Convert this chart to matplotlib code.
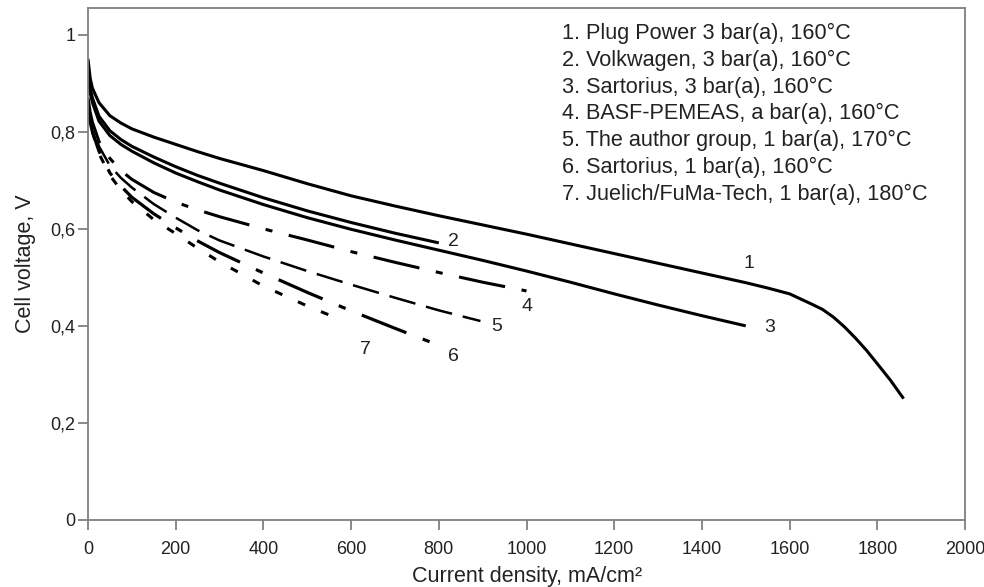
import matplotlib
matplotlib.use("Agg")
import matplotlib.pyplot as plt
from matplotlib.ticker import FuncFormatter

plt.rcParams['font.family'] = ['Liberation Sans', 'DejaVu Sans']

# polarisation curves, current density in mA/cm2, cell voltage in V
x1 = [0, 5, 10, 25, 50, 75, 100, 150, 200, 250, 300, 400, 500, 600, 700, 800, 900, 1000,
      1100, 1200, 1300, 1400, 1500, 1550, 1600, 1650, 1675, 1700, 1725, 1750, 1775, 1800,
      1830, 1860]
y1 = [0.95, 0.91, 0.89, 0.86, 0.833, 0.818, 0.806, 0.789, 0.774, 0.759, 0.745, 0.72,
      0.693, 0.668, 0.647, 0.627, 0.608, 0.589, 0.569, 0.549, 0.529, 0.509, 0.489,
      0.478, 0.466, 0.445, 0.434, 0.418, 0.398, 0.375, 0.35, 0.322, 0.288, 0.25]

x2 = [0, 5, 10, 25, 50, 75, 100, 150, 200, 250, 300, 400, 500, 600, 700, 800]
y2 = [0.93, 0.89, 0.87, 0.832, 0.802, 0.784, 0.77, 0.748, 0.728, 0.71, 0.694, 0.664,
      0.637, 0.613, 0.591, 0.571]

x3 = [0, 5, 10, 25, 50, 75, 100, 150, 200, 250, 300, 400, 500, 600, 700, 800, 900,
      1000, 1100, 1200, 1300, 1400, 1500]
y3 = [0.92, 0.88, 0.86, 0.822, 0.792, 0.774, 0.76, 0.736, 0.715, 0.697, 0.68, 0.65,
      0.623, 0.599, 0.577, 0.556, 0.535, 0.513, 0.49, 0.466, 0.443, 0.421, 0.40]

x4 = [0, 5, 10, 25, 50, 75, 100, 150, 200, 250, 300, 400, 500, 600, 700, 800, 900, 1000]
y4 = [0.87, 0.84, 0.82, 0.78, 0.745, 0.72, 0.702, 0.675, 0.655, 0.639, 0.625, 0.60,
      0.577, 0.553, 0.531, 0.51, 0.49, 0.472]

x5 = [0, 5, 10, 25, 50, 75, 100, 150, 200, 250, 300, 400, 500, 600, 700, 800, 895]
y5 = [0.86, 0.83, 0.81, 0.77, 0.73, 0.705, 0.685, 0.651, 0.623, 0.597, 0.576, 0.543,
      0.513, 0.485, 0.458, 0.432, 0.41]

x6 = [0, 5, 10, 25, 50, 75, 100, 150, 200, 250, 300, 400, 500, 600, 700, 800]
y6 = [0.85, 0.82, 0.80, 0.76, 0.715, 0.688, 0.665, 0.631, 0.602, 0.575, 0.551, 0.509,
      0.469, 0.431, 0.395, 0.36]

x7 = [0, 5, 10, 25, 50, 75, 100, 150, 200, 250, 300, 400, 500, 570]
y7 = [0.85, 0.82, 0.80, 0.755, 0.71, 0.68, 0.656, 0.619, 0.59, 0.56, 0.532, 0.482,
      0.441, 0.415]

legend_lines = [
    "1. Plug Power 3 bar(a), 160°C",
    "2. Volkwagen, 3 bar(a), 160°C",
    "3. Sartorius, 3 bar(a), 160°C",
    "4. BASF-PEMEAS, a bar(a), 160°C",
    "5. The author group, 1 bar(a), 170°C",
    "6. Sartorius, 1 bar(a), 160°C",
    "7. Juelich/FuMa-Tech, 1 bar(a), 180°C",
]

xticks = [0, 200, 400, 600, 800, 1000, 1200, 1400, 1600, 1800, 2000]
yticks = [0, 0.2, 0.4, 0.6, 0.8, 1.0]

fig = plt.figure(figsize=(9.84, 5.87), dpi=100)
ax = fig.add_axes([88 / 984, 67 / 587, 877 / 984, 512 / 587])

ax.plot(x1, y1, color='black', lw=2.2, solid_capstyle='butt', solid_joinstyle='round')
ax.plot(x2, y2, color='black', lw=2.2, solid_capstyle='butt', solid_joinstyle='round')
ax.plot(x3, y3, color='black', lw=2.2, solid_capstyle='butt', solid_joinstyle='round')
ax.plot(x4, y4, color='black', lw=2.2, linestyle=(0, (15.4, 5.5, 2.3, 5.5)))
ax.plot(x5, y5, color='black', lw=1.8, linestyle=(0, (10.8, 4.4)))
ax.plot(x6, y6, color='black', lw=2.3, linestyle=(0, (15, 5.5, 2.3, 5.5)))
ax.plot(x7, y7, color='black', lw=2.2, linestyle=(0, (2.6, 5.6)))

# curve numbers next to the curve ends
lab_kw = dict(textcoords='offset points', ha='center', va='center', fontsize=14, color='#222222')
ax.annotate("1", xy=(x1[22], y1[22]), xytext=(2, 14), **lab_kw)
ax.annotate("2", xy=(x2[-1], y2[-1]), xytext=(10.5, 1), **lab_kw)
ax.annotate("3", xy=(x3[-1], y3[-1]), xytext=(17, -1.5), **lab_kw)
ax.annotate("4", xy=(x4[-1], y4[-1]), xytext=(0, -11), **lab_kw)
ax.annotate("5", xy=(x5[-1], y5[-1]), xytext=(11.7, -4), **lab_kw)
ax.annotate("6", xy=(x6[-1], y6[-1]), xytext=(10.5, -8), **lab_kw)
ax.annotate("7", xy=(x7[-1], y7[-1]), xytext=(19.5, -22.5), **lab_kw)

# legend as plain text block
for i, line in enumerate(legend_lines):
    ax.text(0.5405, (520 - 39 - 26.8 * i) / 512, line, transform=ax.transAxes,
            ha='left', va='baseline', fontsize=15.6, color='#222222')

ax.set_xlim(0, 2000)
ax.set_ylim(0, 1.055)
ax.set_xticks(xticks)
ax.set_yticks(yticks)
ax.yaxis.set_major_formatter(FuncFormatter(lambda v, p: f"{v:g}".replace('.', ',')))

for s in ax.spines.values():
    s.set_color('#808080')
    s.set_linewidth(1.3)
ax.tick_params(direction='out', length=7, width=1.3, color='#808080',
               labelsize=13, labelcolor='#222222')
ax.tick_params(axis='x', pad=8)
ax.tick_params(axis='y', pad=2)

ax.set_xlabel("Current density, mA/cm²", fontsize=15.5, color='#222222', labelpad=6)
ax.set_ylabel("Cell voltage, V", fontsize=15.5, color='#222222', labelpad=10)

fig.savefig("out.png", dpi=100)
